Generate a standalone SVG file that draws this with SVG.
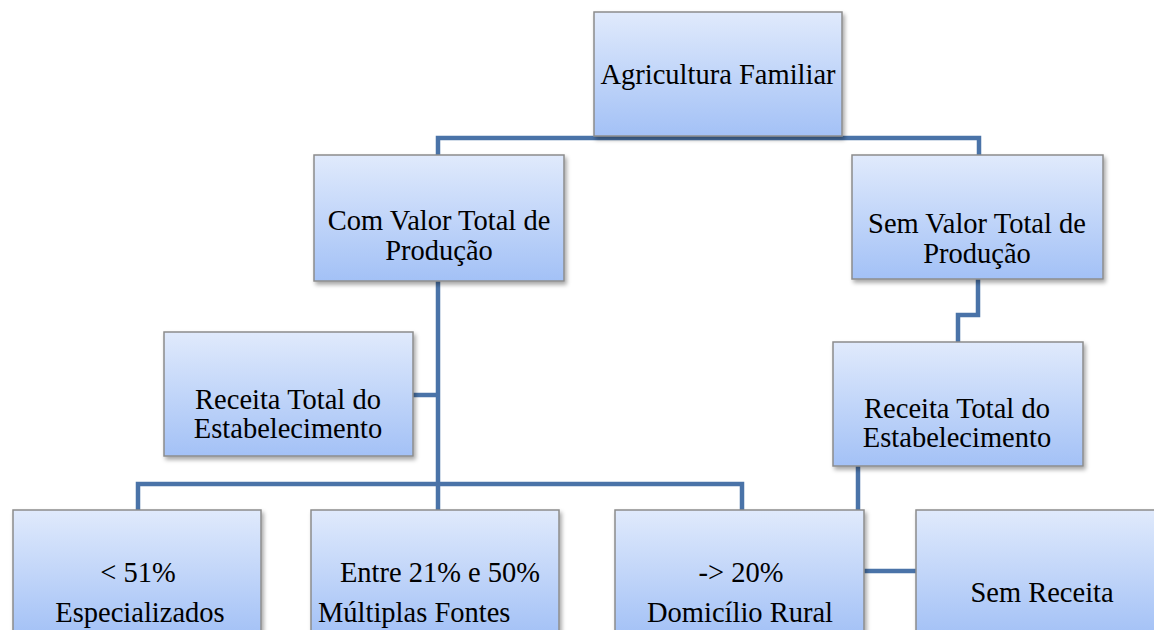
<svg xmlns="http://www.w3.org/2000/svg" width="1154" height="630" viewBox="0 0 1154 630">
<defs>
<linearGradient id="g" x1="0" y1="0" x2="0" y2="1">
<stop offset="0" stop-color="#e0eafc"/>
<stop offset="1" stop-color="#a3c1f6"/>
</linearGradient>
<filter id="sh" x="-10%" y="-10%" width="125%" height="130%">
<feDropShadow dx="2" dy="3" stdDeviation="2" flood-color="#000" flood-opacity="0.35"/>
</filter>
</defs>
<style>
.box{fill:url(#g);stroke:#8c8c8c;stroke-width:1.5;filter:url(#sh)}
.t{font-family:'Liberation Serif','Times New Roman','DejaVu Serif',serif;font-size:28.5px;fill:#000;text-anchor:middle}
.c{fill:none;stroke:#4a73a8;stroke-width:4.5}
</style>
<g id="connectors">
<path class="c" d="M438,156 V138 H979 V156"/>
<path class="c" d="M438,281 V484 M138,510 V484 H742 V510 M438,484 V510"/>
<path class="c" d="M413,395 H438"/>
<path class="c" d="M978,279 V315 H958 V343"/>
<path class="c" d="M858,466 V511"/>
<path class="c" d="M864,571 H917"/>
</g>
<g font-family="Liberation Serif, serif">
<g id="agricultura">
<rect class="box" x="594" y="12" width="248" height="124"/>
<text class="t" x="718" y="84" font-family="Liberation Serif, serif">Agricultura Familiar</text>
</g>
<g id="com-valor">
<rect class="box" x="314" y="155" width="250" height="126"/>
<text class="t" x="439" y="230">Com Valor Total de</text>
<text class="t" x="439" y="260">Produção</text>
</g>
<g id="sem-valor">
<rect class="box" x="852" y="155" width="251" height="124"/>
<text class="t" x="977" y="233">Sem Valor Total de</text>
<text class="t" x="977" y="263">Produção</text>
</g>
<g id="receita-esq">
<rect class="box" x="164" y="332" width="249" height="124"/>
<text class="t" x="288" y="409">Receita Total do</text>
<text class="t" x="288" y="438">Estabelecimento</text>
</g>
<g id="receita-dir">
<rect class="box" x="833" y="342" width="250" height="124"/>
<text class="t" x="957" y="418">Receita Total do</text>
<text class="t" x="957" y="447">Estabelecimento</text>
</g>
<g id="especializados">
<rect class="box" x="13" y="510" width="248" height="126"/>
<text class="t" x="138" y="582">&lt; 51%</text>
<text class="t" x="140" y="622">Especializados</text>
</g>
<g id="multiplas">
<rect class="box" x="311" y="510" width="248" height="126"/>
<text class="t" x="440" y="582">Entre 21% e 50%</text>
<text class="t" x="318" y="622" style="text-anchor:start">Múltiplas Fontes</text>
</g>
<g id="domicilio">
<rect class="box" x="615" y="510" width="249" height="126"/>
<text class="t" x="741" y="582">-&gt; 20%</text>
<text class="t" x="740" y="622">Domicílio Rural</text>
</g>
<g id="sem-receita">
<rect class="box" x="916" y="510" width="250" height="126"/>
<text class="t" x="1042" y="602">Sem Receita</text>
</g>
</g>
</svg>
